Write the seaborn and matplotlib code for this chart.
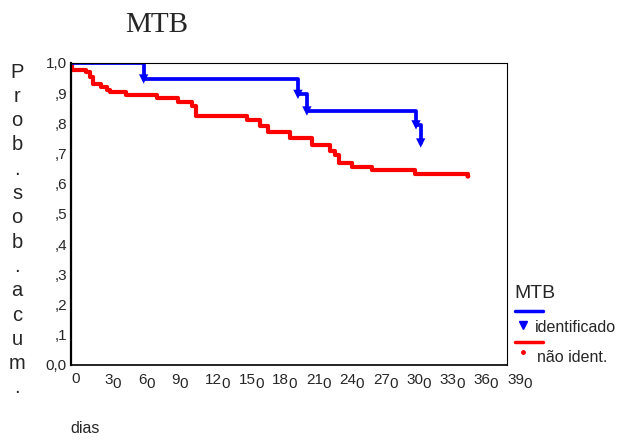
import pandas as pd
import matplotlib.pyplot as plt
import seaborn as sns
from matplotlib.lines import Line2D
import matplotlib.transforms as mtransforms

sns.set_style("white")
plt.rcParams['font.family'] = ['Liberation Sans', 'DejaVu Sans']

# Curvas de sobrevida (Kaplan-Meier)
dias_ident = [0, 65, 203, 211, 308.6, 312.8]
prob_ident = [1.0, 0.947, 0.896, 0.841, 0.795, 0.735]
censura_ident_dias = [65, 203, 211, 308.6, 312.8]
censura_ident_prob = [0.947, 0.896, 0.841, 0.795, 0.735]

dias_nao = [0, 1, 13, 17, 20, 27, 32, 35, 49, 77, 96, 108, 112, 157, 169, 176,
            196, 216, 232, 236, 240, 251, 269, 308, 355]
prob_nao = [1.0, 0.977, 0.970, 0.955, 0.930, 0.921, 0.911, 0.905, 0.893, 0.883,
            0.870, 0.859, 0.824, 0.811, 0.790, 0.773, 0.750, 0.728, 0.710, 0.695,
            0.669, 0.654, 0.646, 0.631, 0.631]
censura_nao_dias = [355]
censura_nao_prob = [0.625]

grupos = ['identificado', 'não ident.']
cores = {'identificado': '#0000ff', 'não ident.': '#ff0000'}

x_ticks = [0, 30, 60, 90, 120, 150, 180, 210, 240, 270, 300, 330, 360, 390]
y_ticks = [0.0, 0.1, 0.2, 0.3, 0.4, 0.5, 0.6, 0.7, 0.8, 0.9, 1.0]
y_labels = ['0,0', ',1', ',2', ',3', ',4', ',5', ',6', ',7', ',8', ',9', '1,0']
ylabel_txt = 'Prob.sob.acum.'

df = pd.concat([
    pd.DataFrame({'dias': dias_ident, 'prob': prob_ident, 'grupo': grupos[0]}),
    pd.DataFrame({'dias': dias_nao, 'prob': prob_nao, 'grupo': grupos[1]}),
])

fig = plt.figure(figsize=(6.31, 4.40), dpi=100)
ax = fig.add_axes([0.1125, 0.1705, 0.691, 0.6864])

# rojo primero, azul encima
sns.lineplot(data=df[df.grupo == grupos[1]], x='dias', y='prob', color=cores[grupos[1]],
             drawstyle='steps-post', estimator=None, lw=3.0, ax=ax, legend=False)
sns.lineplot(data=df[df.grupo == grupos[0]], x='dias', y='prob', color=cores[grupos[0]],
             drawstyle='steps-post', estimator=None, lw=2.7, ax=ax, legend=False)
sns.scatterplot(x=censura_ident_dias, y=censura_ident_prob, marker='v', s=45,
                color=cores[grupos[0]], edgecolor='none', ax=ax, zorder=5)
sns.scatterplot(x=censura_nao_dias, y=censura_nao_prob, marker='o', s=12,
                color=cores[grupos[1]], edgecolor='none', ax=ax, zorder=5)

ax.set_xlim(0, 390)
ax.set_ylim(0, 1.0)
for s in ax.spines.values():
    s.set_color('black')
    s.set_linewidth(0.8)
ax.spines['left'].set_linewidth(1.6)
ax.spines['bottom'].set_linewidth(1.2)

ax.set_yticks(y_ticks)
ax.set_yticklabels(y_labels, fontsize=11)
ax.tick_params(axis='y', direction='inout', length=6, width=2.5, color='black', pad=0)
ax.set_xticks(x_ticks)
ax.set_xticklabels([])
ax.tick_params(axis='x', direction='inout', length=3, width=1.5, color='black')
ax.set_xlabel('')
ax.set_ylabel('')

# etiquetas del eje x con el ultimo 0 desplazado hacia abajo
trans = mtransforms.blended_transform_factory(ax.transData, ax.transAxes)
digito = 11 * 0.53
for t in x_ticks:
    s = str(t)
    if t == 0:
        ax.annotate('0', (t, 0), xycoords=trans, xytext=(0, -5), textcoords='offset points',
                    ha='left', va='top', fontsize=11)
        continue
    ax.annotate(s[:-1], (t, 0), xycoords=trans, xytext=(0, -6), textcoords='offset points',
                ha='left', va='top', fontsize=11)
    ax.annotate(s[-1], (t, 0), xycoords=trans,
                xytext=(len(s[:-1]) * digito, -8.5), textcoords='offset points',
                ha='left', va='top', fontsize=11)

# titulo
fig.text(157 / 631, 1 - 25 / 440, 'MTB', fontsize=21, ha='center', va='center',
         family='Liberation Serif')

# etiqueta vertical del eje y, letra por letra
for i, ch in enumerate(ylabel_txt):
    fig.text(17 / 631, 1 - (72 + i * 24.3) / 440, ch, fontsize=14.5, ha='center', va='center')

fig.text(70 / 631, 1 - 428 / 440, 'dias', fontsize=11.5, ha='left', va='center')

# leyenda manual
fig.text(514 / 631, 1 - 293 / 440, 'MTB', fontsize=14, ha='left', va='center')
fig.add_artist(Line2D([515 / 631, 543 / 631], [1 - 311 / 440] * 2, color=cores[grupos[0]], lw=2.5))
fig.add_artist(Line2D([523 / 631], [1 - 325 / 440], color=cores[grupos[0]], marker='v',
                      markersize=6, lw=0))
fig.text(535 / 631, 1 - 327 / 440, grupos[0], fontsize=11.5, ha='left', va='center')
fig.add_artist(Line2D([515 / 631, 543 / 631], [1 - 342 / 440] * 2, color=cores[grupos[1]], lw=2.5))
fig.add_artist(Line2D([523 / 631], [1 - 352 / 440], color=cores[grupos[1]], marker='o',
                      markersize=2.5, lw=0))
fig.text(537 / 631, 1 - 357 / 440, grupos[1], fontsize=11.5, ha='left', va='center')

plt.savefig('out.png', dpi=100)
